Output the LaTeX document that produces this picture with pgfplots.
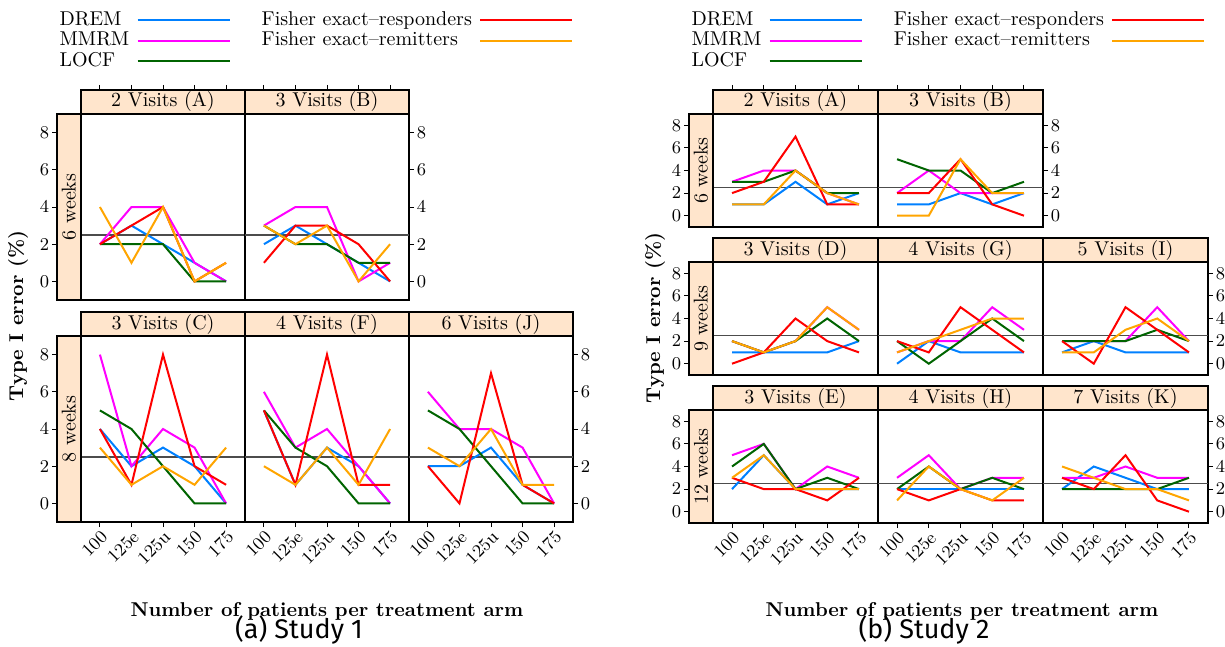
\documentclass[border=0pt]{standalone}
\usepackage{fontspec}
\usepackage{pgfplots}
\usepackage{pgfplotstable}
\pgfplotsset{compat=1.18}
\newfontfamily\capfont{Fira Sans}

\definecolor{cD}{HTML}{0080FF}
\definecolor{cM}{HTML}{FF00FF}
\definecolor{cL}{HTML}{006400}
\definecolor{cR}{HTML}{FF0000}
\definecolor{cO}{HTML}{FFA500}
\definecolor{stripbg}{HTML}{FFE5CC}

% Study 1
\pgfplotstableread{
x d m l r o
0 2 2 2 2 4
1 3 4 2 3 1
2 2 4 2 4 4
3 1 1 0 0 0
4 0 0 0 1 1
}\SiA
\pgfplotstableread{
x d m l r o
0 2 3 3 1 3
1 3 4 2 3 2
2 2 4 2 3 3
3 1 0 1 2 0
4 0 1 1 0 2
}\SiB
\pgfplotstableread{
x d m l r o
0 4 8 5 4 3
1 2 2 4 1 1
2 3 4 2 8 2
3 2 3 0 2 1
4 0 0 0 1 3
}\SiC
\pgfplotstableread{
x d m l r o
0 5 6 5 5 2
1 1 3 3 1 1
2 3 4 2 8 3
3 2 2 0 1 1
4 0 0 0 1 4
}\SiF
\pgfplotstableread{
x d m l r o
0 2 6 5 2 3
1 2 4 4 0 2
2 3 4 2 7 4
3 1 3 0 1 1
4 0 0 0 0 1
}\SiJ
% Study 2
\pgfplotstableread{
x d m l r o
0 1 3 3 2 1
1 1 4 3 3 1
2 3 4 4 7 4
3 1 2 2 1 2
4 2 1 2 1 1
}\SiiA
\pgfplotstableread{
x d m l r o
0 1 2 5 2 0
1 1 4 4 2 0
2 2 2 4 5 5
3 1 2 2 1 2
4 2 2 3 0 2
}\SiiB
\pgfplotstableread{
x d m l r o
0 1 2 2 0 2
1 1 1 1 1 1
2 1 2 2 4 2
3 1 5 4 2 5
4 2 3 2 1 3
}\SiiD
\pgfplotstableread{
x d m l r o
0 0 1 2 2 1
1 2 2 0 1 2
2 1 2 2 5 3
3 1 5 4 3 4
4 1 3 2 1 4
}\SiiG
\pgfplotstableread{
x d m l r o
0 1 2 2 2 1
1 2 2 2 0 1
2 1 2 2 5 3
3 1 5 3 3 4
4 1 2 2 1 2
}\SiiI
\pgfplotstableread{
x d m l r o
0 2 5 4 3 3
1 5 6 6 2 5
2 2 2 2 2 2
3 2 4 3 1 2
4 2 3 2 3 2
}\SiiE
\pgfplotstableread{
x d m l r o
0 2 3 2 2 1
1 2 5 4 1 4
2 2 2 2 2 2
3 2 3 3 1 1
4 2 3 2 1 3
}\SiiH
\pgfplotstableread{
x d m l r o
0 2 3 2 3 4
1 4 3 2 2 3
2 3 4 2 5 2
3 2 3 2 1 2
4 2 3 3 0 1
}\SiiK

\pgfplotsset{
  tickcommon/.style={tick align=outside, major tick length=2.5pt,
    tick style={black, line width=0.5pt},
    tick label style={font=\fontsize{9}{10}\selectfont, inner sep=1.2pt}},
  base/.style={scale only axis, xmin=-0.6, xmax=4.6, ymin=-1, ymax=9,
    axis line style={black, line width=0.6pt}, tickcommon,
    xtick=\empty, ytick=\empty},
  pA/.style={base, width=82pt, height=93pt},
  pB/.style={base, width=82.5pt, height=56.5pt},
  xbot/.style={xtick={0,1,2,3,4}, xticklabels={100,125e,125u,150,175}, xtick pos=left,
    xticklabel style={rotate=45, anchor=north east, inner sep=0.8pt}},
  yright/.style={ytick={0,2,4,6,8}, ytick pos=right, yticklabel pos=right},
  strip/.style={scale only axis, height=12pt, xmin=-0.6, xmax=4.6, ymin=0, ymax=1,
    xtick=\empty, ytick=\empty, axis line style={black, line width=0.6pt}, tickcommon,
    axis background/.style={fill=stripbg}},
  stripT/.style={strip, xtick={0,1,2,3,4}, xticklabels={}, xtick pos=right},
  rstrip/.style={scale only axis, width=12pt, xmin=0, xmax=1, ymin=-1, ymax=9,
    tickcommon, xtick=\empty, ytick={0,2,4,6,8}, ytick pos=left,
    axis line style={black, line width=0.6pt},
    axis background/.style={fill=stripbg}},
  lgd/.style={hide axis, scale only axis, width=1pt, height=1pt, xmin=0, xmax=1, ymin=0, ymax=1,
    legend plot pos=right, legend cell align=left,
    legend image code/.code={\draw[##1, line width=1pt] (0pt,0pt) -- (46pt,0pt);},
    legend columns=2,
    legend style={at={(0,1)}, anchor=north west, draw=none, fill=none, inner sep=0pt,
      column sep=3pt, row sep=0pt,
      nodes={text height=7pt, text depth=2pt, inner sep=0.6pt, font=\fontsize{10}{12}\selectfont},
      /tikz/every even column/.append style={column sep=15pt}}},
}
\newcommand\series[1]{%
  \addplot[black!70, line width=0.6pt] coordinates {(-0.6,2.5) (4.6,2.5)};
  \addplot[cD, line width=1pt] table[x=x, y=d] {#1};
  \addplot[cM, line width=1pt] table[x=x, y=m] {#1};
  \addplot[cL, line width=1pt] table[x=x, y=l] {#1};
  \addplot[cR, line width=1pt] table[x=x, y=r] {#1};
  \addplot[cO, line width=1pt] table[x=x, y=o] {#1};
}
\newcommand\striptext[1]{\node[font=\fontsize{10}{12}\selectfont] at (rel axis cs:0.5,0.5) {#1};}
\newcommand\rowtext[1]{\node[rotate=90, font=\fontsize{10}{12}\selectfont] at (rel axis cs:0.5,0.5) {#1};}

\begin{document}
\begin{tikzpicture}
\useasboundingbox (0,0) rectangle (612.5pt,-323.5pt);

% ================= Study 1 =================
\begin{axis}[lgd, at={(29pt,-4.9pt)}, anchor=north west]
\addlegendimage{cD}\addlegendentry{DREM}
\addlegendimage{cR}\addlegendentry{Fisher exact--responders}
\addlegendimage{cM}\addlegendentry{MMRM}
\addlegendimage{cO}\addlegendentry{Fisher exact--remitters}
\addlegendimage{cL}\addlegendentry{LOCF}
\end{axis}

% top row
\begin{axis}[pA, at={(40.5pt,-57pt)}, anchor=north west]
\series{\SiA}
\end{axis}
\begin{axis}[pA, yright, at={(122.5pt,-57pt)}, anchor=north west]
\series{\SiB}
\end{axis}
\begin{axis}[stripT, width=82pt, at={(40.5pt,-45pt)}, anchor=north west]
\striptext{2 Visits (A)}
\end{axis}
\begin{axis}[stripT, width=82pt, at={(122.5pt,-45pt)}, anchor=north west]
\striptext{3 Visits (B)}
\end{axis}
\begin{axis}[rstrip, height=93pt, at={(28.5pt,-57pt)}, anchor=north west]
\rowtext{6 weeks}
\end{axis}

% bottom row
\begin{axis}[pA, xbot, at={(40.5pt,-168pt)}, anchor=north west]
\series{\SiC}
\end{axis}
\begin{axis}[pA, xbot, at={(122.5pt,-168pt)}, anchor=north west]
\series{\SiF}
\end{axis}
\begin{axis}[pA, xbot, yright, at={(204.5pt,-168pt)}, anchor=north west]
\series{\SiJ}
\end{axis}
\begin{axis}[strip, width=82pt, at={(40.5pt,-156pt)}, anchor=north west]
\striptext{3 Visits (C)}
\end{axis}
\begin{axis}[strip, width=82pt, at={(122.5pt,-156pt)}, anchor=north west]
\striptext{4 Visits (F)}
\end{axis}
\begin{axis}[strip, width=82pt, at={(204.5pt,-156pt)}, anchor=north west]
\striptext{6 Visits (J)}
\end{axis}
\begin{axis}[rstrip, height=93pt, at={(28.5pt,-168pt)}, anchor=north west]
\rowtext{8 weeks}
\end{axis}

\node[rotate=90, font=\bfseries\fontsize{10}{12}\selectfont] at (9pt,-158pt) {Type I error (\%)};
\node[font=\bfseries\fontsize{10}{12}\selectfont] at (163.5pt,-305.5pt) {Number of patients per treatment arm};
\node[anchor=base, font=\capfont\fontsize{13.5}{16}\selectfont] at (149.5pt,-319pt) {(a) Study 1};

% ================= Study 2 =================
\begin{axis}[lgd, at={(345pt,-4.9pt)}, anchor=north west]
\addlegendimage{cD}\addlegendentry{DREM}
\addlegendimage{cR}\addlegendentry{Fisher exact--responders}
\addlegendimage{cM}\addlegendentry{MMRM}
\addlegendimage{cO}\addlegendentry{Fisher exact--remitters}
\addlegendimage{cL}\addlegendentry{LOCF}
\end{axis}

% top row
\begin{axis}[pB, at={(356.5pt,-57pt)}, anchor=north west]
\series{\SiiA}
\end{axis}
\begin{axis}[pB, yright, at={(439pt,-57pt)}, anchor=north west]
\series{\SiiB}
\end{axis}
\begin{axis}[stripT, width=82.5pt, at={(356.5pt,-45pt)}, anchor=north west]
\striptext{2 Visits (A)}
\end{axis}
\begin{axis}[stripT, width=82.5pt, at={(439pt,-45pt)}, anchor=north west]
\striptext{3 Visits (B)}
\end{axis}
\begin{axis}[rstrip, height=56.5pt, at={(344.5pt,-57pt)}, anchor=north west]
\rowtext{6 weeks}
\end{axis}

% middle row
\begin{axis}[pB, at={(356.5pt,-131pt)}, anchor=north west]
\series{\SiiD}
\end{axis}
\begin{axis}[pB, at={(439pt,-131pt)}, anchor=north west]
\series{\SiiG}
\end{axis}
\begin{axis}[pB, yright, at={(521.5pt,-131pt)}, anchor=north west]
\series{\SiiI}
\end{axis}
\begin{axis}[strip, width=82.5pt, at={(356.5pt,-119pt)}, anchor=north west]
\striptext{3 Visits (D)}
\end{axis}
\begin{axis}[strip, width=82.5pt, at={(439pt,-119pt)}, anchor=north west]
\striptext{4 Visits (G)}
\end{axis}
\begin{axis}[strip, width=82.5pt, at={(521.5pt,-119pt)}, anchor=north west]
\striptext{5 Visits (I)}
\end{axis}
\begin{axis}[rstrip, height=56.5pt, at={(344.5pt,-131pt)}, anchor=north west]
\rowtext{9 weeks}
\end{axis}

% bottom row
\begin{axis}[pB, xbot, at={(356.5pt,-205pt)}, anchor=north west]
\series{\SiiE}
\end{axis}
\begin{axis}[pB, xbot, at={(439pt,-205pt)}, anchor=north west]
\series{\SiiH}
\end{axis}
\begin{axis}[pB, xbot, yright, at={(521.5pt,-205pt)}, anchor=north west]
\series{\SiiK}
\end{axis}
\begin{axis}[strip, width=82.5pt, at={(356.5pt,-193pt)}, anchor=north west]
\striptext{3 Visits (E)}
\end{axis}
\begin{axis}[strip, width=82.5pt, at={(439pt,-193pt)}, anchor=north west]
\striptext{4 Visits (H)}
\end{axis}
\begin{axis}[strip, width=82.5pt, at={(521.5pt,-193pt)}, anchor=north west]
\striptext{7 Visits (K)}
\end{axis}
\begin{axis}[rstrip, height=56.5pt, at={(344.5pt,-205pt)}, anchor=north west]
\rowtext{12 weeks}
\end{axis}

\node[rotate=90, font=\bfseries\fontsize{10}{12}\selectfont] at (327.5pt,-159pt) {Type I error (\%)};
\node[font=\bfseries\fontsize{10}{12}\selectfont] at (481pt,-305.5pt) {Number of patients per treatment arm};
\node[anchor=base, font=\capfont\fontsize{13.5}{16}\selectfont] at (462pt,-319pt) {(b) Study 2};
\end{tikzpicture}
\end{document}
